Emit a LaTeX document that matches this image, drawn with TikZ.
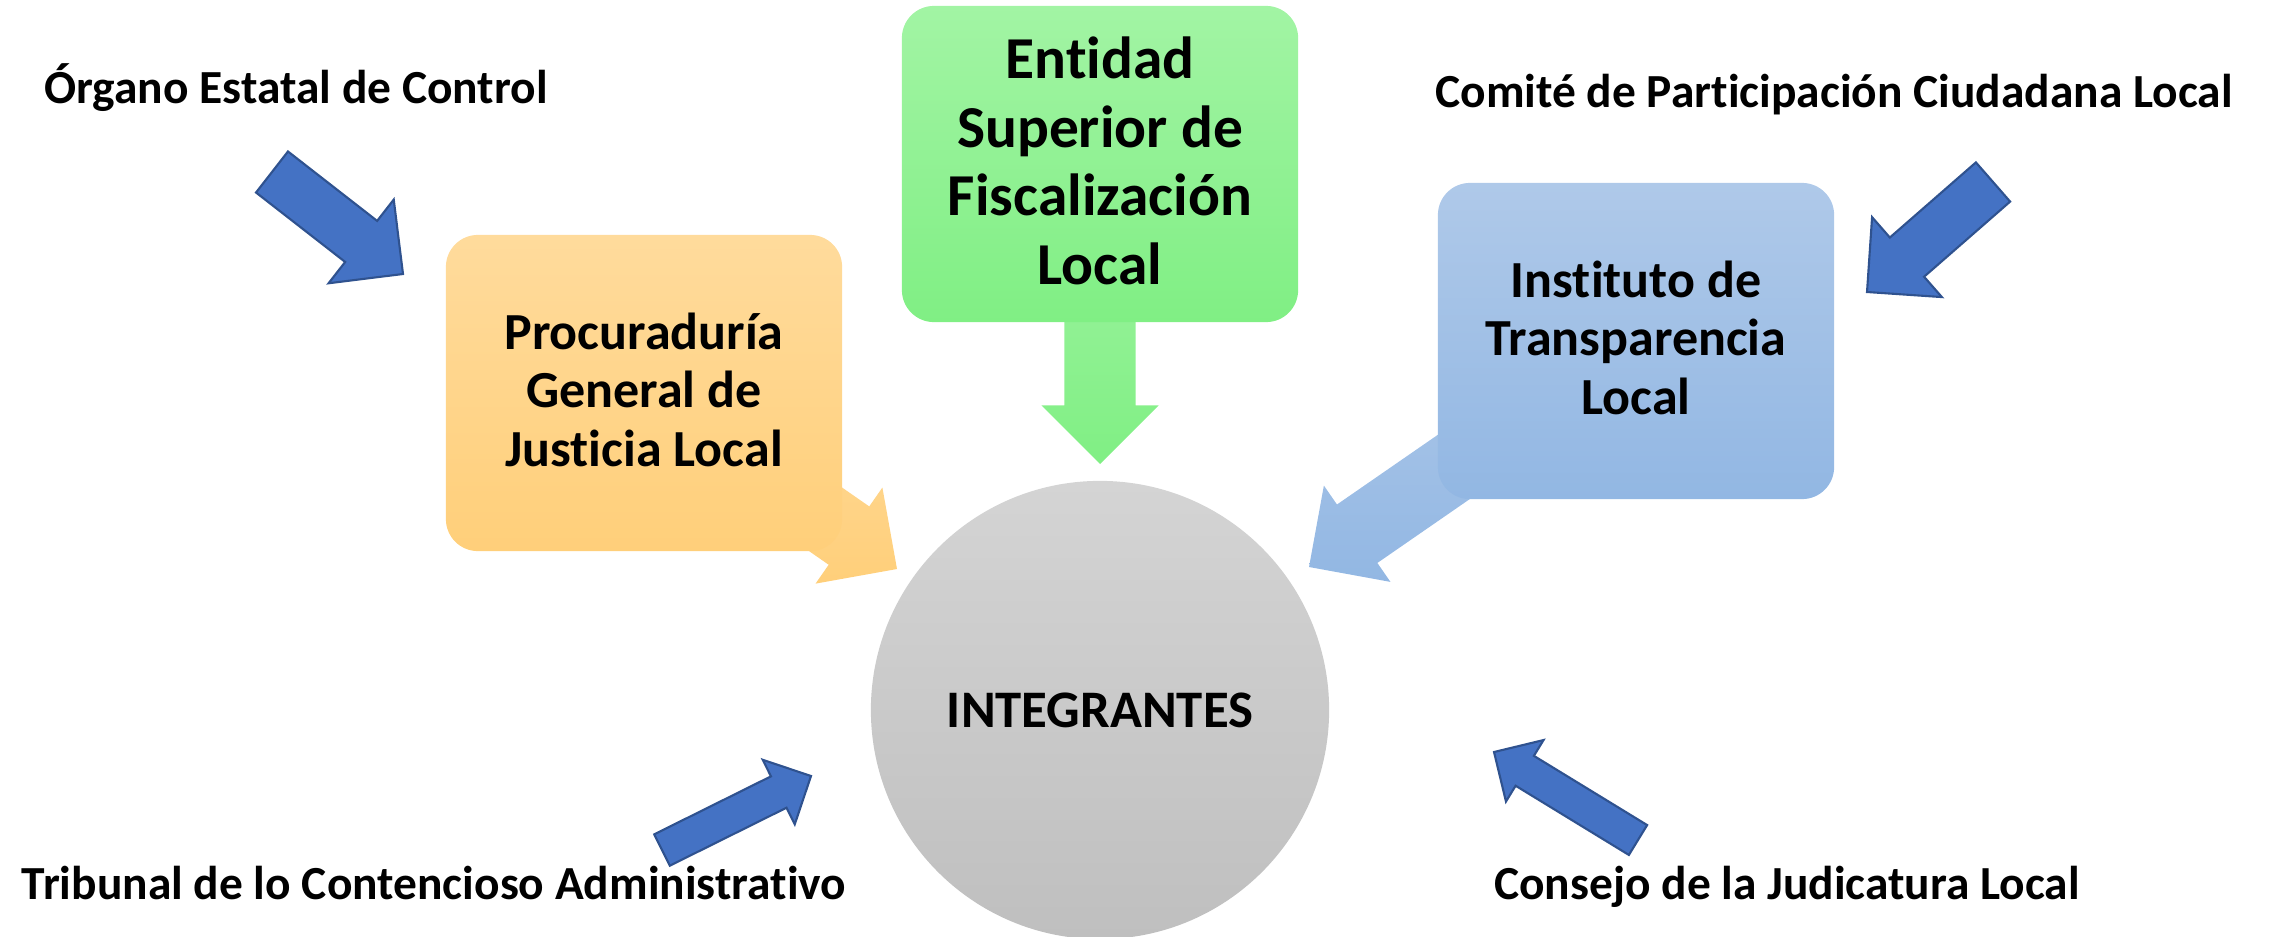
\documentclass[tikz,border=0pt]{standalone}
\usepackage{fontspec}
\setmainfont{Carlito}[Ligatures={TeX,NoCommon}]
\usetikzlibrary{calc,backgrounds}

\definecolor{orgtop}{RGB}{255,219,156}
\definecolor{orgbot}{RGB}{255,207,122}
\definecolor{grntop}{RGB}{162,244,164}
\definecolor{grnbot}{RGB}{128,239,132}
\definecolor{blutop}{RGB}{175,201,233}
\definecolor{blubot}{RGB}{146,183,227}
\definecolor{gratop}{RGB}{212,212,212}
\definecolor{grabot}{RGB}{191,191,191}
\definecolor{arrowblue}{RGB}{68,114,196}
\definecolor{arrowedge}{RGB}{47,82,143}

% block arrow: options, tail, tip, half shaft, half head (= head length)
\newcommand\blockarrow[5]{%
  \coordinate (neck) at ($(#3)!#5!(#2)$);
  \path[#1] ($(#2)!#4!90:(#3)$) -- ($(neck)!#4!90:(#3)$) -- ($(neck)!#5!90:(#3)$) -- (#3)
    -- ($(neck)!#5!-90:(#3)$) -- ($(neck)!#4!-90:(#3)$) -- ($(#2)!#4!-90:(#3)$) -- cycle;}

\begin{document}
\begin{tikzpicture}[x=0.01cm,y=-0.01cm,
  lbl/.style={anchor=base,font=\fontsize{13.5}{16}\selectfont\bfseries},
  box/.style={rounded corners=0.32cm,minimum width=3.96cm,minimum height=3.16cm,inner sep=0pt,
    text depth=2pt,align=center,font=\fontsize{14.8}{16.6}\selectfont\bfseries},
  bluearrow/.style={fill=arrowblue,draw=arrowedge,line width=0.6pt}]

\useasboundingbox (0,0) rectangle (2270,936);

% the three boxes
\node[box,top color=orgtop,bottom color=orgbot] (proc) at (644,393) {Procuraduría\\General de\\Justicia Local};
\node[box,top color=grntop,bottom color=grnbot,font=\fontsize{16.9}{19.5}\selectfont\bfseries] (ent) at (1100,164)
  {Entidad\\Superior de\\Fiscalización\\Local};
\node[box,top color=blutop,bottom color=blubot] (inst) at (1636,341) {Instituto de\\Transparencia\\Local};

% the circle
\node[circle,minimum size=4.58cm,inner sep=0pt,top color=gratop,bottom color=grabot,
  font=\fontsize{15}{18}\selectfont\bfseries] (integ) at (1100,710) {INTEGRANTES};

% outer labels
\node[lbl] (org) at (296,103) {Órgano Estatal de Control};
\node[lbl] (com) at (1834,107) {Comité de Participación Ciudadana Local};
\node[lbl] (tri) at (434,899) {Tribunal de lo Contencioso Administrativo};
\node[lbl] (con) at (1787,899) {Consejo de la Judicatura Local};

% arrow ends
\coordinate (proctip) at (897,569);
\coordinate (enttip) at (1100,464);
\coordinate (insttip) at (1309,567);
\coordinate (orgtail) at (272,172);  \coordinate (orgtip) at (403,274);
\coordinate (comtail) at (1993,182); \coordinate (comtip) at (1867,292);
\coordinate (tritail) at (662,850);  \coordinate (tritip) at (811,776);
\coordinate (contail) at (1638,840); \coordinate (contip) at (1494,752);

% box arrows go behind the boxes
\begin{scope}[on background layer]
\blockarrow{top color=orgtop,bottom color=orgbot}{proc.center}{proctip}{0.355cm}{0.585cm}
\blockarrow{top color=grntop,bottom color=grnbot}{ent.center}{enttip}{0.355cm}{0.585cm}
\blockarrow{top color=blutop,bottom color=blubot}{inst.center}{insttip}{0.355cm}{0.585cm}
\end{scope}

% the blue arrows
\foreach \t/\h/\w/\hw in {orgtail/orgtip/0.26cm/0.53cm, comtail/comtip/0.26cm/0.53cm,
  tritail/tritip/0.175cm/0.36cm, contail/contip/0.175cm/0.36cm}
  {\blockarrow{bluearrow}{\t}{\h}{\w}{\hw}}

\end{tikzpicture}
\end{document}
